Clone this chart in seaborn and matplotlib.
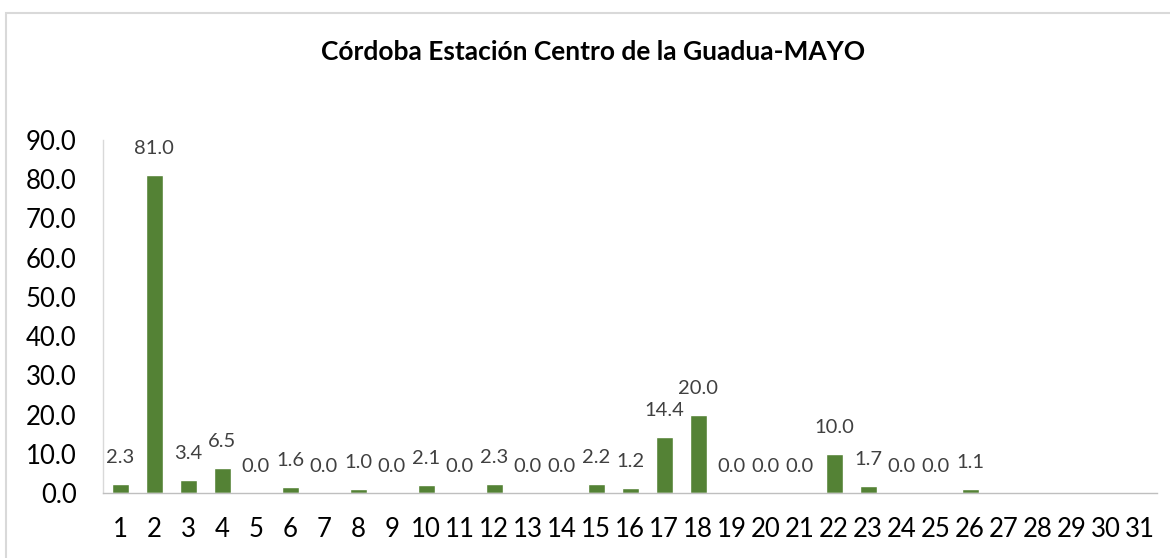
import numpy as np
import pandas as pd
import matplotlib
matplotlib.use("Agg")
import matplotlib.pyplot as plt
import seaborn as sns
from matplotlib.patches import Rectangle

# ---- data ----
days = [str(d) for d in range(1, 32)]
rain = [2.3, 81.0, 3.4, 6.5, 0.0, 1.6, 0.0, 1.0, 0.0, 2.1, 0.0, 2.3, 0.0, 0.0,
        2.2, 1.2, 14.4, 20.0, 0.0, 0.0, 0.0, 10.0, 1.7, 0.0, 0.0, 1.1,
        np.nan, np.nan, np.nan, np.nan, np.nan]
yticks = [0, 10, 20, 30, 40, 50, 60, 70, 80, 90]
title = "Córdoba Estación Centro de la Guadua-MAYO"

sns.set_theme(style="white")
plt.rcParams['font.family'] = ['Lato', 'DejaVu Sans']

df = pd.DataFrame({"day": days, "rain": rain})

fig = plt.figure(figsize=(11.7, 5.58), dpi=100)
ax = fig.add_axes([103/1170, 1 - 493/558, 1054/1170, (493 - 140)/558])

sns.barplot(data=df, x="day", y="rain", order=days, color="#548235",
            saturation=1, width=0.5, ax=ax)

ax.set_xlim(-0.5, 30.5)
ax.set_ylim(0, 90)
ax.set_yticks(yticks)
ax.set_yticklabels([f"{v:.1f}" for v in yticks])
ax.set_xlabel("")
ax.set_ylabel("")
ax.tick_params(axis='y', labelsize=18.5, pad=19, length=0, colors="#000000")
ax.tick_params(axis='x', labelsize=18.5, pad=17, length=0, colors="#000000")

for s in ["top", "right"]:
    ax.spines[s].set_visible(False)
ax.spines["left"].set_color("#d9d9d9")
ax.spines["left"].set_linewidth(1.0)
ax.spines["bottom"].set_color("#bfbfbf")
ax.spines["bottom"].set_linewidth(1.0)

for i, v in enumerate(rain):
    if np.isnan(v):
        continue
    ax.annotate(f"{v:.1f}", xy=(i, v), xytext=(0, 19), textcoords="offset points",
                ha="center", va="center", fontsize=14.5, color="#404040")

fig.text(593/1170, 1 - 52/558, title, ha="center", va="center",
         fontsize=19, fontweight="bold", color="#000000")

fig.patches.append(Rectangle((6/1170, -0.1), 1.2, 1 - 13/558 + 0.1,
                             transform=fig.transFigure, fill=False,
                             edgecolor="#d9d9d9", linewidth=1.5))

fig.savefig("out.png", dpi=100)
